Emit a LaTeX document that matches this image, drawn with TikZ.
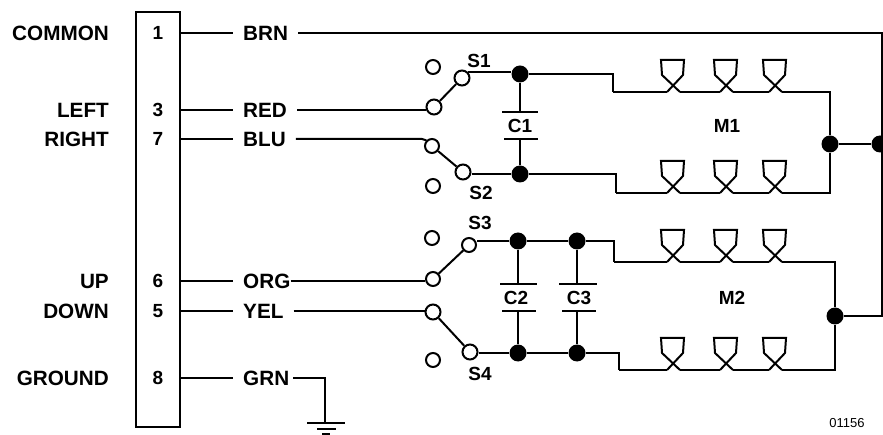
\documentclass[tikz,border=0pt]{standalone}
\usepackage{fontspec}
\setmainfont{Liberation Sans}
\tikzset{
    wire/.style={line width=2pt},
    pinlabel/.style={font=\fontsize{20.7}{21}\selectfont\bfseries,anchor=east,inner sep=0pt},
    pinnum/.style={font=\fontsize{19}{19}\selectfont\bfseries,inner sep=0pt},
    wirelabel/.style={font=\fontsize{20.7}{21}\selectfont\bfseries,anchor=west,inner ysep=0pt,inner xsep=10pt},
    partlabel/.style={font=\fontsize{19}{19}\selectfont\bfseries,inner sep=0pt},
    contact/.style={circle,draw,line width=2pt,fill=white,inner sep=0pt,minimum size=#1},
    contact/.default=15pt,
    junction/.style={circle,fill=black,inner sep=0pt,minimum size=17pt},
    coil/.pic={
        \draw[wire,line join=miter] (-6,0) coordinate (-in) -- (10,-17) -- (11,-32)
            -- (-12,-32) -- (-11,-17) -- (7,0) coordinate (-out);
    }
}
\begin{document}
\begin{tikzpicture}[x=1pt,y=-1pt]
    \useasboundingbox (0,0) rectangle (883,435);
    % connector
    \node[draw,wire,minimum width=44pt,minimum height=415pt,inner sep=0pt] (conn) at (158,219.5) {};
    \foreach \n/\lab/\col/\y in {1/COMMON/BRN/33,3/LEFT/RED/110,7/RIGHT/BLU/139,6/UP/ORG/281,5/DOWN/YEL/311,8/GROUND/GRN/378}{
        \node[pinnum] (pin\n) at (158,\y) {\n};
        \node[pinlabel] (name\n) at (109,\y) {\lab};
        \node[wirelabel] (col\n) at (233,\y) {\col};
        \draw[wire] (conn.east |- pin\n) -- (col\n.west);
    }
    % switches
    \node[contact=14pt] (off1) at (433,67) {};
    \node[contact] (s1) at (462,78) {};
    \node[contact] (com1) at (434,107) {};
    \node[contact=14pt] (com2) at (432,146) {};
    \node[contact] (s2) at (463,172) {};
    \node[contact=14pt] (off2) at (433,186) {};
    \node[contact=14pt] (off3) at (432,238) {};
    \node[contact=14pt] (s3) at (469,245) {};
    \node[contact=14pt] (com3) at (433,279) {};
    \node[contact] (com4) at (433,312) {};
    \node[contact] (s4) at (470,352) {};
    \node[contact=14pt] (off4) at (433,360) {};
    \node[partlabel] at (479,61) {S1};
    \node[partlabel] at (481,193) {S2};
    \node[partlabel] at (480,223) {S3};
    \node[partlabel] at (480,374) {S4};
    \draw[wire] (com1) -- (s1);
    \draw[wire] (com2) -- (s2);
    \draw[wire] (com3) -- (s3);
    \draw[wire] (com4) -- (s4);
    \coordinate (bend7) at (422,139);
    \draw[wire] (col3.east) -- (col3.east -| com1.west);
    \draw[wire] (col7.east) -- (bend7) -- (com2.135);
    \draw[wire] ([xshift=-10pt]col6.east) -- (col6.east -| com3.west);
    \draw[wire] (col5.east) -- (col5.east -| com4.west);
    % capacitors
    \node[junction] (j1) at (520,74) {};
    \node[junction] (j2) at (520,174) {};
    \node[junction] (j3) at (518,241) {};
    \node[junction] (j4) at (577,241) {};
    \node[junction] (j5) at (518,353) {};
    \node[junction] (j6) at (577,353) {};
    \foreach \c/\a/\b/\xa/\xb/\ya/\yb/\wa/\wb in {C1/j1/j2/520/521/112/139/36/34,C2/j3/j5/518.5/519/284/311/37/34,C3/j4/j6/578/579/284/311/38/34}{
        \coordinate (\c top) at (\xa,\ya);
        \coordinate (\c bot) at (\xb,\yb);
        \draw[wire] ([xshift=-\wa/2*1pt]\c top) -- ([xshift=\wa/2*1pt]\c top);
        \draw[wire] ([xshift=-\wb/2*1pt]\c bot) -- ([xshift=\wb/2*1pt]\c bot);
        \draw[wire] (\a) -- (\a |- \c top);
        \draw[wire] (\b) -- (\b |- \c bot);
    }
    \node[partlabel] at (520,126) {C1};
    \node[partlabel] at (516,298) {C2};
    \node[partlabel] at (579,298) {C3};
    % windings
    \foreach \m/\y/\xs in {ma/92/613,mb/193/616,mc/262/614,md/370/619}{
        \coordinate (\m step) at (\xs,\y);
        \pic (\m x) at (673,\y) {coil};
        \pic (\m y) at (726,\y) {coil};
        \pic (\m z) at (775,\y) {coil};
        \draw[wire] (\m step) -- (\m x-in);
        \draw[wire] (\m x-out) -- (\m y-in);
        \draw[wire] (\m y-out) -- (\m z-in);
    }
    \node[partlabel] at (727,126) {M1};
    \node[partlabel] at (732,298) {M2};
    \draw[wire] (s1.45) -- (s1.45 -| j1.west);
    \draw[wire] (j1.east) -| (mastep);
    \draw[wire] (s2.east |- j2) -- (j2.west);
    \draw[wire] (j2.east) -| (mbstep);
    \draw[wire,line width=2.6pt] (s3.east |- j3) -- (j3) -- (j4);
    \draw[wire] (j4.east) -| (mcstep);
    \draw[wire] (s4.east |- j5) -- (j5) -- (j6);
    \draw[wire] (j6.east) -| (mdstep);
    % common return
    \node[junction] (j7) at (830,144) {};
    \node[junction] (j8) at (880,144) {};
    \node[junction] (j9) at (835,316) {};
    \coordinate (rail) at (882,33);
    \draw[wire] (maz-out) -| (j7);
    \draw[wire] (mbz-out) -| (j7);
    \draw[wire] (j7) -- (j8);
    \draw[wire] (mcz-out) -| (j9);
    \draw[wire] (mdz-out) -| (j9);
    \draw[wire] (col1.east) -- (rail) -- (rail |- j9) -- (j9);
    % ground
    \coordinate (gnd) at (325,423);
    \draw[wire] ([xshift=-6pt]col8.east) -| (gnd);
    \draw[wire] (307,423) -- (345,423);
    \draw[wire] (317,428.5) -- (336,428.5);
    \draw[wire] (322,434) -- (330,434);
    \node[font=\fontsize{13}{13}\selectfont,inner sep=0pt] (drawno) at (847,423) {01156};
\end{tikzpicture}
\end{document}
